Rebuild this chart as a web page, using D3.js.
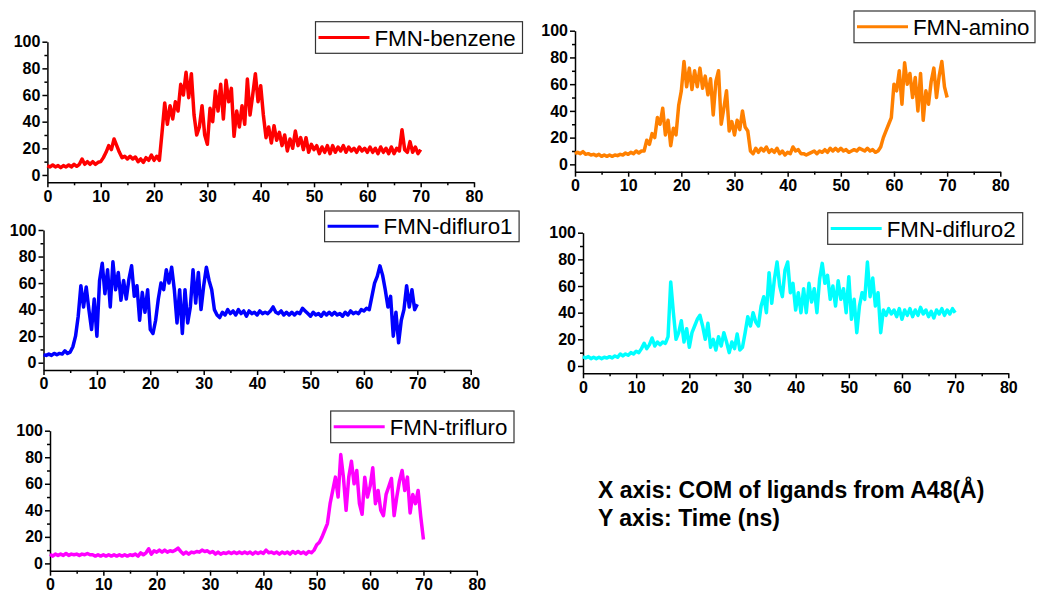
<!DOCTYPE html>
<html>
<head>
<meta charset="utf-8">
<script src="https://cdn.jsdelivr.net/npm/d3@7/dist/d3.min.js"></script>
<style>
  body { margin: 0; background: #fff; }
  svg { display: block; font-family: Arial, "Liberation Sans", sans-serif; }
  .axis path, .axis line { stroke: #000; stroke-width: 1.5; }
  .axis text { font-size: 16px; font-weight: bold; fill: #000; }
</style>
</head>
<body>
<svg id="chart" width="1037" height="596"></svg>
<script>
// time axis sampled every 0.5 ns, 0..70
var timeStep = 0.5;
var xTicks = [0, 10, 20, 30, 40, 50, 60, 70, 80];
var yTicks = [0, 20, 40, 60, 80, 100];

var names = ["FMN-benzene", "FMN-amino", "FMN-difluro1", "FMN-difluro2", "FMN-trifluro"];
var colors = ["#ff0000", "#ff8000", "#0000ff", "#00ffff", "#ff00ff"];

var benzene = [7,6,7.5,6,7,5.5,7,6,7.5,6,8,6.5,8,12,8,10,8,10,8,9.5,
  10,13,17,22,19,27,22,17,13,14,12,14,12,13.5,10,12,9.5,13,11,15,
  11,14,11,32,54,38,52,42,55,48,68,60,77,58,76,45,30,36,52,30,
  23,50,40,63,48,68,42,71,55,65,29,48,36,52,38,72,45,60,76,55,
  67,45,28,36,24,37,26,32,22,30,18,27,20,33,22,28,19,28,17,23,
  19,22,16,21,17,22,16,22,17,21,18,22,17,21,18,20,17,21,18,20,
  17,21,17,20,16,21,17,20,16,21,16,20,18,34,19,17,25,17,21,16,19];

var amino = [8,9,8,9.5,7.5,8,7,7.5,6.5,7.5,6,7,6,7,6,7,6.5,7.5,7,8.5,
  7.5,9,8,10,8.5,10,10,18,15,23,20,35,30,42,22,33,14,27,22,44,
  55,77,58,72,56,70,58,72,57,66,52,64,37,62,70,30,42,55,25,32,
  22,33,26,40,28,25,10,8,12,9,12,10,13,9,11,9,12,8,10,7,
  9,8,13,10,11,8,8,7,8,9,10,8,10,9,11,9,12,10,12,10,
  12,10,11,9,10,11,10,12,11,10,12,10,11,9,10,13,20,25,30,35,
  60,55,70,45,76,60,68,50,65,40,68,33,55,45,62,72,50,66,77,58,50];

var difluro1 = [6,5.5,6.5,5.5,7,6,7,6.5,9,7,8,12,20,35,58,42,57,40,25,48,
  20,62,75,52,70,42,76,55,68,47,62,48,63,73,50,58,32,53,38,55,
  25,22,32,48,60,55,70,60,72,55,30,55,22,55,30,42,70,45,68,40,
  58,72,62,55,40,36,34,38,36,40,37,39,36,40,37,39,35,39,37,38,
  36,39,37,38,37,39,42,38,37,39,36,38,36,38,36,38,37,41,39,37,
  35,38,36,37,35,38,36,38,36,38,36,37,35,38,36,39,37,38,37,40,
  39,41,40,50,60,65,73,66,55,42,50,20,38,15,32,40,58,42,55,40,44];

var difluro2 = [7,6,7,5.5,6.5,5.5,6.5,5.5,6.5,6,7,6,7.5,6.5,9,7.5,9,8,10,9,
  11,10,13,17,13,16,21,15,18,16,18,17,22,63,40,20,25,34,18,28,
  14,25,30,35,38,30,20,32,14,20,12,22,15,25,18,10,18,13,24,12,
  14,25,37,30,40,33,30,45,52,40,70,47,65,78,60,52,72,78,55,62,
  42,55,40,58,40,62,48,58,40,65,77,62,68,50,60,45,64,50,58,40,
  67,35,50,25,45,55,50,78,52,66,45,55,25,42,38,43,39,42,37,43,
  35,42,38,43,37,42,38,44,39,42,37,41,36,42,39,43,38,42,39,43,40];

var trifluro = [7,5.5,7,6,7,6,7.5,6,7,6.5,7,6,7,6.5,7.5,6.5,6.5,5.5,6.5,5.5,
  6.5,5.5,6.5,5.5,6.5,5.5,6.5,5.5,6.5,5.5,6.5,6,7,5.5,8,6.5,8,11,7,9.5,
  8.5,10,8.5,10,8.5,9.5,9,10,11.5,9,7,8.5,7,8.5,8,9,8.5,10,9,9.5,
  8,9,7,8.5,7,8,7.5,8.5,7.5,8.5,7.5,8.5,7.5,8.5,7.5,8.5,7,8.5,7.5,8.5,
  7.5,10,8,8.5,7.5,8.5,7,8.5,7.5,8.5,7,9,7.5,9,7.5,8.5,7,9,8,10,
  14,16,20,25,30,45,55,65,50,82,65,40,65,77,60,70,45,37,65,50,
  58,72,45,55,40,36,52,58,64,36,50,62,70,55,65,38,52,45,55,35,18];

var series = [benzene, amino, difluro1, difluro2, trifluro];

// panel frames: axis origin x, x at 80, y at 100, axis line y, legend box
var panels = [
  {x0: 47.4, x1: 474, top: 41.7, bot: 182.3, lg: [315.5, 21.7, 207, 31.6]},
  {x0: 575, x1: 1000.3, top: 30.7, bot: 171.7, lg: [854, 11, 181, 31.7]},
  {x0: 43.5, x1: 470.7, top: 230, bot: 370, lg: [324.6, 211, 194.5, 30.7]},
  {x0: 583, x1: 1008.3, top: 232.7, bot: 373.3, lg: [827.7, 212.7, 195, 31.6]},
  {x0: 50, x1: 476.8, top: 430.7, bot: 570.7, lg: [330.7, 411, 183.3, 31.7]}
];

var svg = d3.select("#chart");

panels.forEach(function (p, i) {
    var vals = series[i];
    var x = d3.scaleLinear().domain([0, 80]).range([p.x0, p.x1]);
    var y = d3.scaleLinear().domain([-5.5, 100]).range([p.bot, p.top]);
    var g = svg.append("g");

    // minor ticks
    g.append("g").attr("class", "axis")
        .attr("transform", "translate(0," + p.bot + ")")
        .call(d3.axisBottom(x).tickValues(d3.range(5, 80, 10)).tickSize(3).tickFormat(""))
        .select(".domain").remove();
    g.append("g").attr("class", "axis")
        .attr("transform", "translate(" + p.x0 + ",0)")
        .call(d3.axisLeft(y).tickValues(d3.range(10, 100, 20)).tickSize(3).tickFormat(""))
        .select(".domain").remove();

    g.append("g").attr("class", "axis")
        .attr("transform", "translate(0," + p.bot + ")")
        .call(d3.axisBottom(x).tickValues(xTicks).tickSize(5).tickSizeOuter(0).tickPadding(3));
    g.append("g").attr("class", "axis")
        .attr("transform", "translate(" + p.x0 + ",0)")
        .call(d3.axisLeft(y).tickValues(yTicks).tickSize(5).tickSizeOuter(0).tickPadding(2));

    var line = d3.line()
        .x(function (d, k) { return x(k * timeStep); })
        .y(function (d) { return y(d); });

    g.append("path")
        .datum(vals)
        .attr("fill", "none")
        .attr("stroke", colors[i])
        .attr("stroke-width", 3.5)
        .attr("stroke-linejoin", "round")
        .attr("d", line);

    // legend
    var lg = p.lg;
    var leg = g.append("g").attr("transform", "translate(" + lg[0] + "," + lg[1] + ")");
    leg.append("rect")
        .attr("width", lg[2]).attr("height", lg[3])
        .attr("fill", "#fff").attr("stroke", "#333").attr("stroke-width", 1.2);
    leg.append("line")
        .attr("x1", 3).attr("x2", 54)
        .attr("y1", lg[3] / 2).attr("y2", lg[3] / 2)
        .attr("stroke", colors[i]).attr("stroke-width", 3);
    leg.append("text")
        .attr("x", 59).attr("y", lg[3] / 2)
        .attr("dy", "0.36em")
        .attr("font-size", "22.3px")
        .attr("fill", "#000")
        .text(names[i]);
});

svg.append("text")
    .attr("x", 598).attr("y", 498)
    .attr("font-size", "23px").attr("font-weight", "bold")
    .text("X axis: COM of ligands from A48(Å)");
svg.append("text")
    .attr("x", 598).attr("y", 526)
    .attr("font-size", "23px").attr("font-weight", "bold")
    .text("Y axis: Time (ns)");
</script>
</body>
</html>
